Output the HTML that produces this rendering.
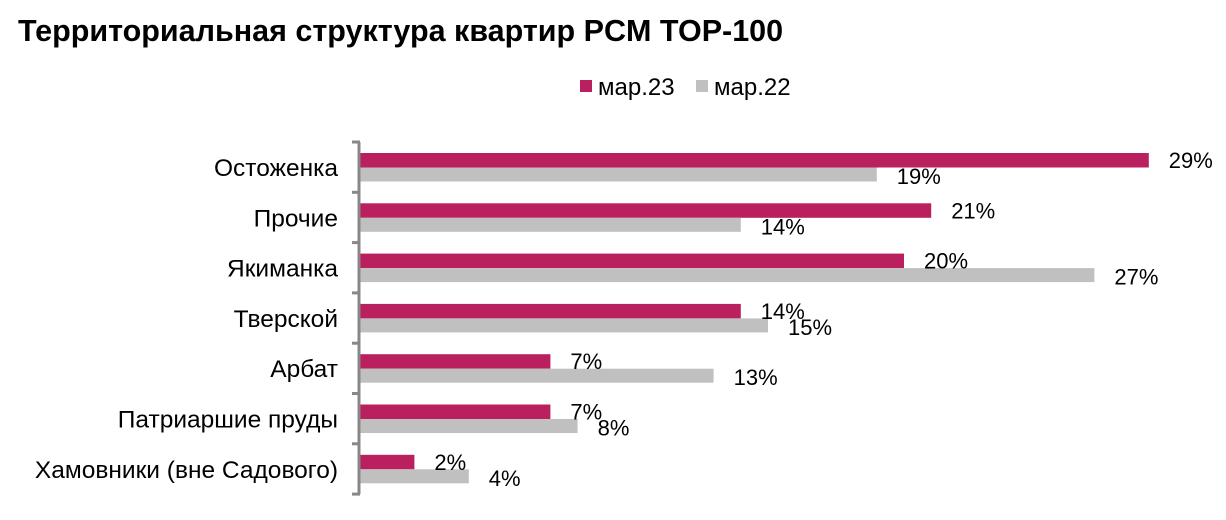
<!DOCTYPE html><html><head><meta charset="utf-8"><style>body{margin:0;background:#fff}</style></head><body>
<svg width="1226" height="515" xmlns="http://www.w3.org/2000/svg" font-family="Liberation Sans, sans-serif">
<text x="18" y="41" font-size="30.5" font-weight="bold" fill="#000">Территориальная структура квартир PCM TOP-100</text>
<rect x="580" y="80" width="12" height="12" fill="#BA1F5E"/><text x="598" y="95" font-size="24">мар.23</text>
<rect x="696" y="80" width="12" height="12" fill="#C0C0C0"/><text x="714" y="95" font-size="24">мар.22</text>
<g id="bars"></g>
<line x1="359" y1="142" x2="359" y2="494" stroke="#888" stroke-width="3"/>
<g stroke="#888" stroke-width="3" id="ticks"></g>
</svg>
<script>
var d=[["Остоженка",29,19],["Прочие",21,14],["Якиманка",20,27],["Тверской",14,15],["Арбат",7,13],["Патриаршие пруды",7,8],["Хамовники (вне Садового)",2,4]];
var s=27.2,x0=360,g=document.getElementById('bars'),t=document.getElementById('ticks'),h='',th='';
for(var i=0;i<=7;i++){var y=142+i*50.3;th+='<line x1="352" y1="'+y+'" x2="360" y2="'+y+'"/>';}
d.forEach(function(r,i){var y=153+i*50.3;
h+='<rect x="'+x0+'" y="'+y+'" width="'+r[1]*s+'" height="14.5" fill="#BA1F5E"/>';
h+='<rect x="'+x0+'" y="'+(y+14.5)+'" width="'+r[2]*s+'" height="14" fill="#C0C0C0"/>';
h+='<text x="338" y="'+(y+23)+'" font-size="24.5" text-anchor="end">'+r[0]+'</text>';
h+='<text x="'+(x0+r[1]*s+20)+'" y="'+(y+15)+'" font-size="22">'+r[1]+'%</text>';
h+='<text x="'+(x0+r[2]*s+20)+'" y="'+(y+31)+'" font-size="22">'+r[2]+'%</text>';});
g.innerHTML=h;t.innerHTML=th;
</script>
</body></html>
